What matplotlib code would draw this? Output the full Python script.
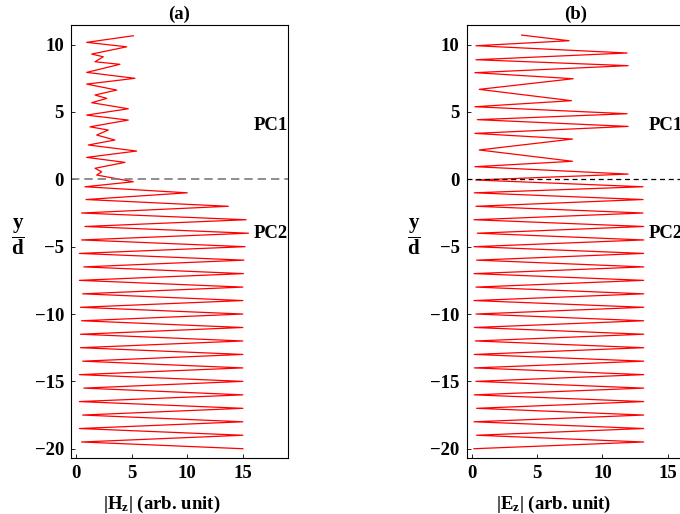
import matplotlib
matplotlib.use('Agg')
import matplotlib.pyplot as plt

plt.rcParams['font.family'] = ['Liberation Serif', 'DejaVu Serif']
plt.rcParams['font.weight'] = 'bold'
plt.rcParams['axes.labelweight'] = 'bold'
plt.rcParams['axes.titleweight'] = 'bold'
plt.rcParams['font.size'] = 13.5
plt.rcParams['mathtext.fontset'] = 'custom'
plt.rcParams['mathtext.rm'] = 'Liberation Serif:bold'
plt.rcParams['mathtext.it'] = 'Liberation Serif:bold'
plt.rcParams['mathtext.bf'] = 'Liberation Serif:bold'

# panel (a): |Hz| extrema, top to bottom
hz_x = [5.15, 0.96, 4.56, 1.41, 2.45, 1.71, 3.95, 0.96, 5.30, 0.96,
        3.66, 1.71, 2.76, 1.41, 4.70, 0.96, 4.70, 1.26, 2.90, 1.86,
        3.50, 1.11, 5.45, 0.96, 4.40, 1.71, 2.31, 1.86, 5.15, 0.81,
        10.0, 0.9, 13.7, 0.5, 15.3, 0.8, 15.5, 0.5, 15.2, 0.3,
        15.1, 0.7, 15.05, 0.3, 15.0, 0.6, 15.0, 0.4, 15.0, 0.5,
        15.0, 0.4, 15.0, 0.4, 15.0, 0.6, 15.0, 0.3, 15.0, 0.7,
        15.0, 0.3, 15.0, 0.6, 15.0, 0.3, 15.0, 0.5, 15.0]
hz_y = [10.66, 10.17, 9.84, 9.30, 9.10, 8.73, 8.54, 7.94, 7.50, 7.07,
        6.63, 6.26, 6.01, 5.69, 5.24, 4.77, 4.40, 3.90, 3.66, 3.29,
        2.92, 2.55, 2.10, 1.63, 1.26, 0.82, 0.56, 0.32, -0.18, -0.55,
        -1.0, -1.5, -2.0, -2.5, -3.0, -3.5, -4.0, -4.5, -5.0, -5.5,
        -6.0, -6.5, -7.0, -7.5, -8.0, -8.5, -9.0, -9.5, -10.0, -10.5,
        -11.0, -11.5, -12.0, -12.5, -13.0, -13.5, -14.0, -14.5, -15.0, -15.5,
        -16.0, -16.5, -17.0, -17.5, -18.0, -18.5, -19.0, -19.5, -20.0]

# panel (b): |Ez| extrema
ez_x = [3.82, 7.45, 0.33, 11.88, 0.33, 11.96, 0.25, 7.76, 0.58, 7.63,
        0.25, 11.88, 0.43, 11.96, 0.25, 7.71, 0.58, 7.71, 0.25, 11.96,
        0.3, 13.1, 0.2, 13.1, 0.33, 13.1, 0.18, 13.15, 0.43, 13.15,
        0.18, 13.15, 0.38, 13.15, 0.18, 13.15, 0.33, 13.15, 0.18, 13.15,
        0.33, 13.15, 0.2, 13.15, 0.28, 13.15, 0.2, 13.15, 0.2, 13.15,
        0.33, 13.15, 0.2, 13.15, 0.38, 13.15, 0.18, 13.15, 0.38, 13.15,
        0.18]
ez_y = [10.71, 10.29, 9.92, 9.38, 8.88, 8.44, 7.92, 7.47, 6.68, 5.84,
        5.39, 4.87, 4.43, 3.93, 3.41, 2.99, 2.18, 1.34, 0.94, 0.39,
        -0.05, -0.55, -1.0, -1.5, -2.0, -2.5, -3.0, -3.5, -4.0, -4.5,
        -5.0, -5.5, -6.0, -6.5, -7.0, -7.5, -8.0, -8.5, -9.0, -9.5,
        -10.0, -10.5, -11.0, -11.5, -12.0, -12.5, -13.0, -13.5, -14.0, -14.5,
        -15.0, -15.5, -16.0, -16.5, -17.0, -17.5, -18.0, -18.5, -19.0, -19.5,
        -20.0]

xticks = [0, 5, 10, 15]
yticks = [10, 5, 0, -5, -10, -15, -20]

fig = plt.figure(figsize=(6.8, 5.14), dpi=100)
ax_a = fig.add_axes([0.1044, 0.1084, 0.319, 0.843])
ax_b = fig.add_axes([0.6863, 0.1084, 0.319, 0.843])

panels = [
    (ax_a, hz_x, hz_y, '(a)', r'$|\mathrm{H}_\mathrm{z}|$ (arb. unit)', (-0.45, 19.05), '#7a7a7a', (5, 3), 1.2, 0.42),
    (ax_b, ez_x, ez_y, '(b)', r'$|\mathrm{E}_\mathrm{z}|$ (arb. unit)', (-0.38, 16.2), 'black', (4, 3), 0.9, 0.40),
]

for ax, xs, ys, title, xlabel, xlim, dcol, dash, dlw, lx in panels:
    ax.plot(xs, ys, color='red', lw=0.9)
    ax.axhline(0, color=dcol, lw=dlw, dashes=dash)
    ax.set_xlim(*xlim)
    ax.set_ylim(-20.71, 11.46)
    ax.set_xticks(xticks)
    ax.set_yticks(yticks)
    ax.tick_params(direction='in', length=3, width=0.6, pad=5)
    for s in ax.spines.values():
        s.set_linewidth(0.8)
    ax.set_title(title, fontsize=13.5, fontweight='bold', pad=4)
    ax.set_xlabel(xlabel)
    ax.xaxis.set_label_coords(lx, -0.083)
    ax.set_ylabel(r'$\dfrac{\mathrm{y}}{\mathrm{d}}$', rotation=0, va='center', ha='center', fontsize=15)
    ax.yaxis.set_label_coords(-0.245, 0.511)
    ax.text(0.84, 0.767, 'PC1', transform=ax.transAxes, ha='left', va='center')
    ax.text(0.84, 0.518, 'PC2', transform=ax.transAxes, ha='left', va='center')

fig.savefig('out.png', dpi=100)
